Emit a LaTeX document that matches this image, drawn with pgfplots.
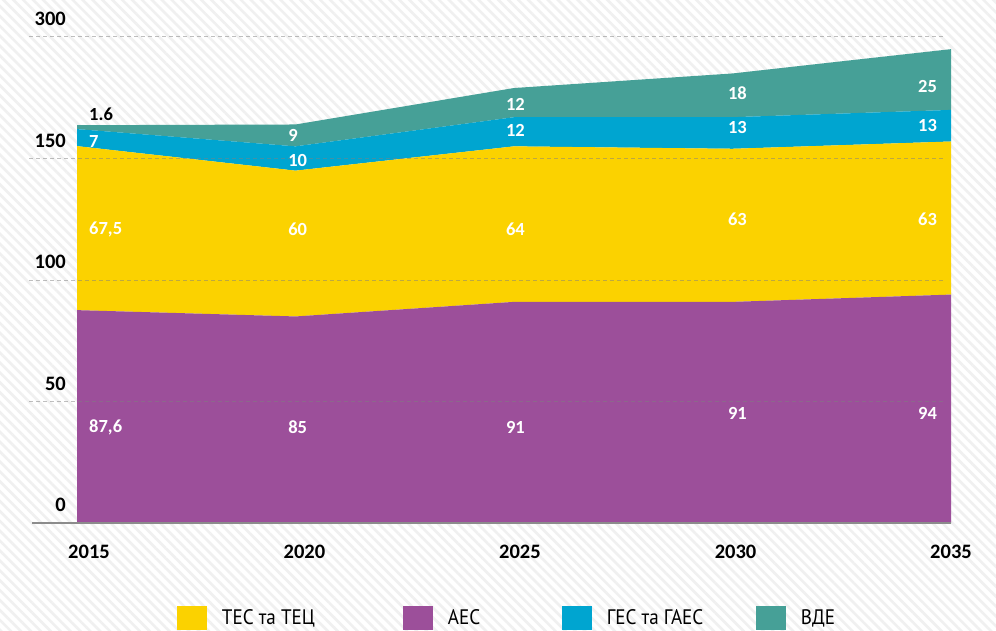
\documentclass[border=0pt]{standalone}
\usepackage{fontspec}
\setmainfont{PT Sans}
\newfontfamily\numfont{Carlito}
\newfontfamily\legfont[FakeStretch=0.91]{PT Sans}
\usepackage{pgfplots}
\pgfplotsset{compat=1.18}
\usetikzlibrary{patterns.meta}

\definecolor{tesc}{HTML}{FBD200}
\definecolor{aesc}{HTML}{9C4F9A}
\definecolor{gesc}{HTML}{00A5D0}
\definecolor{vdec}{HTML}{46A097}

\tikzset{
  val/.style={font=\numfont\bfseries\fontsize{18.5}{18.5}\selectfont,
    text=white, inner sep=0pt, anchor=west},
  grd/.style={gray, opacity=0.5, dash pattern=on 4pt off 3pt, line width=1pt},
}
\pgfplotsset{
  frame/.style={at={(77pt,107pt)}, anchor=south west,
    scale only axis, width=874pt, height=486pt,
    xmin=0, xmax=4, ymin=0, ymax=200, clip=false},
}

\begin{document}
\begin{tikzpicture}[x=1pt,y=1pt]
\useasboundingbox (0,0) rectangle (996,630);
\clip (0,0) rectangle (996,630);
\fill[white] (0,0) rectangle (996,630);
\fill[pattern={Lines[angle=-45,distance=7pt,line width=2.6pt]},
      pattern color=black!6] (-20,-20) rectangle (1016,650);
% stacked areas, ticks and legend
\begin{axis}[
  frame,
  axis line style={draw=none},
  major tick length=0pt,
  stack plots=y,
  xtick={0.055,1.041,2.027,3.014,4},
  xticklabels={2015,2020,2025,2030,2035},
  ytick={0,50,100,150,200},
  yticklabels={0,50,100,150,300},
  tick label style={font=\numfont\bfseries\fontsize{20.5}{20.5}\selectfont,
    text=black, inner sep=0pt},
  xticklabel style={anchor=center, yshift=-29pt},
  yticklabel style={anchor=east, xshift=-11pt, yshift=18pt},
  legend columns=4,
  legend image code/.code={\fill[#1,draw=none] (0pt,-6pt) rectangle (30pt,18pt);},
  legend style={at={(0.1144,-0.1708)}, anchor=north west, draw=none, fill=none,
    inner sep=0pt, outer sep=0pt,
    nodes={inner sep=0pt, text depth=0pt, anchor=base west}, cells={anchor=base west},
    font=\legfont\fontsize{21}{21}\selectfont,
    /tikz/every odd column/.style={column sep=15pt}},
  legend entries={\makebox[181pt][l]{ТЕС та ТЕЦ},\makebox[114pt][l]{АЕС},
    \makebox[149pt][l]{ГЕС та ГАЕС},ВДЕ},
]
\addlegendimage{fill=tesc}
\addlegendimage{fill=aesc}
\addlegendimage{fill=gesc}
\addlegendimage{fill=vdec}

% АЕС
\addplot[fill=aesc, draw=none] coordinates {(0,87.6) (1,85) (2,91) (3,91) (4,94)} \closedcycle;
% ТЕС та ТЕЦ
\addplot[fill=tesc, draw=none] coordinates {(0,67.5) (1,60) (2,64) (3,63) (4,63)} \closedcycle;
% ГЕС та ГАЕС
\addplot[fill=gesc, draw=none] coordinates {(0,7) (1,10) (2,12) (3,13) (4,13)} \closedcycle;
% ВДЕ
\addplot[fill=vdec, draw=none] coordinates {(0,1.6) (1,9) (2,12) (3,18) (4,25)} \closedcycle;
\end{axis}

% grid lines, base line and value labels above the areas
\begin{axis}[frame, hide axis]
\pgfplotsinvokeforeach{50,100,150,200}{
  \draw[grd] ([xshift=-48pt]axis cs:0,#1) -- ([xshift=-6pt]axis cs:4,#1);
}
\draw[black!45, line width=1.2pt] ([xshift=-45pt]axis cs:0,0) -- (axis cs:4,0);

\node[val] at (axis cs:0.055,39.5) {87,6};
\node[val] at (axis cs:0.966,39.5) {85};
\node[val] at (axis cs:1.963,39.5) {91};
\node[val] at (axis cs:2.979,44.9) {91};
\node[val] at (axis cs:3.849,44.9) {94};

\node[val] at (axis cs:0.055,121) {67,5};
\node[val] at (axis cs:0.966,121) {60};
\node[val] at (axis cs:1.963,121) {64};
\node[val] at (axis cs:2.979,125.1) {63};
\node[val] at (axis cs:3.849,125.1) {63};

\node[val] at (axis cs:0.055,157.2) {7};
\node[val] at (axis cs:0.966,149) {10};
\node[val] at (axis cs:1.963,161.7) {12};
\node[val] at (axis cs:2.979,162.9) {13};
\node[val] at (axis cs:3.849,163.4) {13};

\node[val, text=black] at (axis cs:0.055,168.3) {1.6};
\node[val] at (axis cs:0.966,159.3) {9};
\node[val] at (axis cs:1.963,172.2) {12};
\node[val] at (axis cs:2.979,177) {18};
\node[val] at (axis cs:3.849,179.8) {25};
\end{axis}
\end{tikzpicture}
\end{document}
